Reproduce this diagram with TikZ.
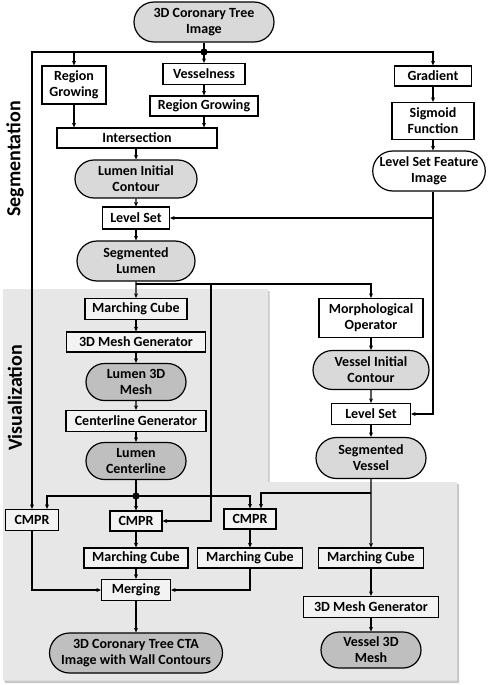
\documentclass[tikz,border=0pt]{standalone}
\usepackage{fontspec}
\setmainfont{Carlito}
\usetikzlibrary{arrows.meta,shapes.misc,calc}
\definecolor{bgray}{RGB}{231,231,231}
\definecolor{sgray}{RGB}{200,200,200}
\definecolor{lgray}{RGB}{217,217,217}
\definecolor{dgray}{RGB}{191,191,191}
\definecolor{wgray}{RGB}{243,243,243}
\begin{document}
\begin{tikzpicture}[x=1pt,y=-1pt,
  font=\fontsize{14}{16}\selectfont\bfseries,
  base/.style={draw=black, line width=1.2pt, align=center, inner sep=1pt},
  box/.style={base, rectangle, fill=white},
  gbox/.style={base, rectangle, fill=wgray},
  rbox/.style={base, rounded rectangle, fill=lgray},
  dbox/.style={base, rounded rectangle, fill=dgray},
  wbox/.style={base, rounded rectangle, fill=white},
  sz/.style 2 args={minimum width=#1pt, minimum height=#2pt},
  conn/.style={line width=1.2pt},
  arr/.style={conn, -{Stealth[length=4.5pt,width=4pt]}},
  side/.style={font=\fontsize{20}{24}\selectfont\bfseries, rotate=90}
]
\useasboundingbox (0,0) rectangle (495,685);
% background region
\fill[sgray] (4.5,291) -- (269.5,291) -- (269.5,484) -- (459,484) -- (459,683) -- (4.5,683) -- cycle;
\fill[bgray] (3,289) -- (268,289) -- (268,482) -- (457,482) -- (457,680.5) -- (3,680.5) -- cycle;

\node[side] (segtxt) at (15,159) {Segmentation};
\node[side] (vistxt) at (15,398) {Visualization};

% nodes
\node[rbox, sz={142}{40}] (top) at (204,22) {3D Coronary Tree\\Image};
\node[box, sz={64}{38}] (rg1) at (74,85) {Region\\Growing};
\node[box, sz={82}{21}] (ves) at (204,74) {Vesselness};
\node[box, sz={108}{20}] (rg2) at (204,106) {Region Growing};
\node[box, sz={160}{20}] (inter) at (137,138) {Intersection};
\node[rbox, sz={124}{38}] (lic) at (136,179) {Lumen Initial\\Contour};
\node[box, sz={67}{22}] (ls1) at (136,218) {Level Set};
\node[box, sz={77}{20}] (grad) at (433,76) {Gradient};
\node[box, sz={82}{37}] (sig) at (433,121) {Sigmoid\\Function};
\node[wbox, sz={110}{40}] (lsfi) at (429,171) {Level Set Feature\\Image};
\node[rbox, sz={120}{40}] (segl) at (136,261) {Segmented\\Lumen};
\node[gbox, sz={102}{21}] (mc1) at (136,309) {Marching Cube};
\node[gbox, sz={139}{20}] (mg1) at (136,342) {3D Mesh Generator};
\node[dbox, sz={102}{37}] (l3d) at (136,382) {Lumen 3D\\Mesh};
\node[gbox, sz={140}{21}] (cg) at (136,421) {Centerline Generator};
\node[dbox, sz={102}{37}] (lc) at (136,461) {Lumen\\Centerline};
\node[box, sz={104}{39}] (morph) at (371,318) {Morphological\\Operator};
\node[rbox, sz={118}{39}] (vic) at (371,370) {Vessel Initial\\Contour};
\node[box, sz={79}{21}] (ls2) at (371,414) {Level Set};
\node[rbox, sz={112}{41}] (segv) at (371,458) {Segmented\\Vessel};
\node[gbox, sz={53}{21}] (cmpr1) at (32,520) {CMPR};
\node[gbox, sz={52}{20}] (cmpr2) at (136,521) {CMPR};
\node[gbox, sz={52}{20}] (cmpr3) at (250,519) {CMPR};
\node[gbox, sz={104}{20}] (mc2) at (136,558) {Marching Cube};
\node[gbox, sz={105}{20}] (mc3) at (250,558) {Marching Cube};
\node[gbox, sz={105}{20}] (mc4) at (371,558) {Marching Cube};
\node[gbox, sz={69}{21}] (merge) at (136,590) {Merging};
\node[dbox, sz={175}{40}] (cta) at (136,653) {3D Coronary Tree CTA\\Image with Wall Contours};
\node[gbox, sz={135}{21}] (mg2) at (371,607) {3D Mesh Generator};
\node[dbox, sz={102}{36}] (v3d) at (371,650) {Vessel 3D\\Mesh};

% junction coordinates
\coordinate (d1) at (204,52);
\coordinate (s1) at (136,284);
\coordinate (s2) at (211,284);
\coordinate (d2) at (136,496);
\coordinate (s3) at (371,493);

% connectors: segmentation
\draw[conn] (top.south) -- (d1);
\draw[arr] (d1) -| (grad.north);
\draw[arr] (d1) -| (cmpr1.north);
\draw[arr] (rg1.north |- d1) -- (rg1.north);
\draw[arr] (d1) -- (ves.north);
\fill (d1) circle (3.6pt);
\draw[arr] (ves) -- (rg2);
\draw[arr] (rg1.south) -- (rg1.south |- inter.north);
\draw[arr] (rg2.south) -- (rg2.south |- inter.north);
\draw[arr] (inter.south -| lic) -- (lic.north);
\draw[arr] (lic) -- (ls1);
\draw[arr] (grad) -- (sig);
\draw[arr] (sig.south) -- (sig.south |- lsfi.north);
\draw[arr] (lsfi.south -| grad) -- (grad |- ls2) -- (ls2.east);
\draw[arr] (grad |- ls1) -- (ls1.east);
\draw[arr] (ls1) -- (segl);

% lumen branch
\draw[arr] (segl) -- (mc1);
\draw[arr] (s1) -| (morph.north);
\draw[arr] (s2) |- (cmpr2.east);
\draw[arr] (mc1) -- (mg1);
\draw[arr] (mg1) -- (l3d);
\draw[arr] (l3d) -- (cg);
\draw[arr] (cg) -- (lc);
\draw[conn] (lc.south) -- (d2);
\draw[arr] (d2) -- (cmpr2.north);
\draw[arr] (d2) -| ([xshift=15pt]cmpr1.north);
\draw[arr] (d2) -| (cmpr3.north);
\fill (d2) circle (3.6pt);

% vessel branch
\draw[arr] (morph) -- (vic);
\draw[arr] (vic) -- (ls2);
\draw[arr] (ls2) -- (segv);
\draw[arr] (segv) -- (mc4);
\draw[arr] (s3) -| ([xshift=11pt]cmpr3.north);
\draw[arr] (mc4) -- (mg2);
\draw[arr] (mg2) -- (v3d);

% bottom
\draw[arr] (cmpr2) -- (mc2);
\draw[arr] (cmpr3) -- (mc3);
\draw[arr] (cmpr1.south) |- (merge.west);
\draw[arr] (mc3.south) |- (merge.east);
\draw[arr] (mc2) -- (merge);
\draw[arr] (merge) -- (cta);
\end{tikzpicture}
\end{document}
